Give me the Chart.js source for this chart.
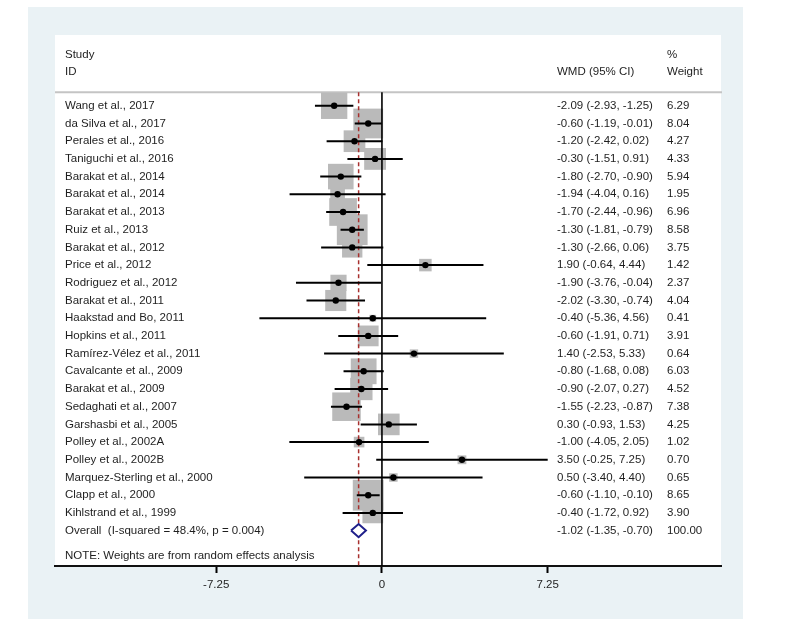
<!DOCTYPE html>
<html>
<head>
<meta charset="utf-8">
<title>Forest plot - WMD</title>
<script src="https://cdn.jsdelivr.net/npm/chart.js@4"></script>
<style>
  html, body { margin: 0; padding: 0; background: #fff; }
  #wrap { width: 800px; height: 619px; position: relative; }
</style>
</head>
<body>
<div id="wrap"><canvas id="forest"></canvas></div>
<script>
/* ---- data ---- */
const studies = [
  'Wang et al., 2017', 'da Silva et al., 2017', 'Perales et al., 2016', 'Taniguchi et al., 2016',
  'Barakat et al., 2014', 'Barakat et al., 2014', 'Barakat et al., 2013', 'Ruiz et al., 2013',
  'Barakat et al., 2012', 'Price et al., 2012', 'Rodriguez et al., 2012', 'Barakat et al., 2011',
  'Haakstad and Bo, 2011', 'Hopkins et al., 2011', 'Ramírez-Vélez et al., 2011', 'Cavalcante et al., 2009',
  'Barakat et al., 2009', 'Sedaghati et al., 2007', 'Garshasbi et al., 2005', 'Polley et al., 2002A',
  'Polley et al., 2002B', 'Marquez-Sterling et al., 2000', 'Clapp et al., 2000', 'Kihlstrand et al., 1999'
];
const wmd = [-2.09, -0.60, -1.20, -0.30, -1.80, -1.94, -1.70, -1.30, -1.30, 1.90, -1.90, -2.02,
  -0.40, -0.60, 1.40, -0.80, -0.90, -1.55, 0.30, -1.00, 3.50, 0.50, -0.60, -0.40];
const ciLower = [-2.93, -1.19, -2.42, -1.51, -2.70, -4.04, -2.44, -1.81, -2.66, -0.64, -3.76, -3.30,
  -5.36, -1.91, -2.53, -1.68, -2.07, -2.23, -0.93, -4.05, -0.25, -3.40, -1.10, -1.72];
const ciUpper = [-1.25, -0.01, 0.02, 0.91, -0.90, 0.16, -0.96, -0.79, 0.06, 4.44, -0.04, -0.74,
  4.56, 0.71, 5.33, 0.08, 0.27, -0.87, 1.53, 2.05, 7.25, 4.40, -0.10, 0.92];
const weights = [6.29, 8.04, 4.27, 4.33, 5.94, 1.95, 6.96, 8.58, 3.75, 1.42, 2.37, 4.04,
  0.41, 3.91, 0.64, 6.03, 4.52, 7.38, 4.25, 1.02, 0.70, 0.65, 8.65, 3.90];

const overallLabel = 'Overall  (I-squared = 48.4%, p = 0.004)';
const overallEst = -1.02;
const overallCI = [-1.35, -0.70];
const overallWeight = 100.00;
const noteText = 'NOTE: Weights are from random effects analysis';

const xTicks = [-7.25, 0, 7.25];

/* ---- layout helpers ---- */
const overallRow = studies.length;      // row index of the pooled estimate
const headRowTop = -2.9;                 // "Study" / "%"
const headRowBottom = -1.9;              // "ID" / "WMD (95% CI)" / "Weight"
const sepRow = -0.76;                    // grey rule under the header
const noteRow = 25.45;
const COL = { study: 65, wmd: 557, weight: 667 };
const FAMILY = '"Liberation Sans", Arial, sans-serif';
const FONT = '11.5px ' + FAMILY;
const TXT = '#1e1e1e';

const fmt = v => v.toFixed(2);

// CI segments, broken with null points
const ciData = [];
studies.forEach((s, i) => {
  ciData.push({ x: ciLower[i], y: i }, { x: ciUpper[i], y: i }, { x: null, y: null });
});
const estData = wmd.map((v, i) => ({ x: v, y: i }));
// box side ~ sqrt(weight); 'rect' point side = radius * sqrt(2)
const boxRadius = weights.map(w => 10.5 * Math.sqrt(w) / Math.SQRT2);
const dHalf = 0.37;
const diamondData = [
  { x: overallCI[0], y: overallRow },
  { x: overallEst, y: overallRow - dHalf },
  { x: overallCI[1], y: overallRow },
  { x: overallEst, y: overallRow + dHalf },
  { x: overallCI[0], y: overallRow }
];

/* ---- plugins ---- */
const panelPlugin = {
  id: 'panel',
  beforeDraw(chart) {
    const { ctx, chartArea: a } = chart;
    ctx.save();
    ctx.fillStyle = '#ffffff';
    ctx.fillRect(0, 0, chart.width, chart.height);
    ctx.fillStyle = '#eaf2f5';
    ctx.fillRect(28, 7, 715, chart.height - 7);
    ctx.fillStyle = '#ffffff';
    ctx.fillRect(a.left, a.top, a.right - a.left, a.bottom - a.top);
    ctx.restore();
  },
  beforeDatasetsDraw(chart) {
    const { ctx, chartArea: a } = chart;
    const y = chart.scales.y.getPixelForValue(sepRow);
    ctx.save();
    ctx.strokeStyle = '#c4c4c4';
    ctx.lineWidth = 2;
    ctx.beginPath();
    ctx.moveTo(a.left, y);
    ctx.lineTo(a.right + 1, y);
    ctx.stroke();
    ctx.restore();
  }
};

const textPlugin = {
  id: 'columns',
  afterDraw(chart) {
    const { ctx } = chart;
    const ys = chart.scales.y;
    const put = (t, x, row) => ctx.fillText(t, x, ys.getPixelForValue(row));
    ctx.save();
    ctx.font = FONT;
    ctx.fillStyle = TXT;
    ctx.textAlign = 'left';
    ctx.textBaseline = 'middle';

    put('Study', COL.study, headRowTop);
    put('ID', COL.study, headRowBottom);
    put('WMD (95% CI)', COL.wmd, headRowBottom);
    put('%', COL.weight, headRowTop);
    put('Weight', COL.weight, headRowBottom);

    studies.forEach((s, i) => {
      put(s, COL.study, i);
      put(`${fmt(wmd[i])} (${fmt(ciLower[i])}, ${fmt(ciUpper[i])})`, COL.wmd, i);
      put(fmt(weights[i]), COL.weight, i);
    });

    put(overallLabel, COL.study, overallRow);
    put(`${fmt(overallEst)} (${fmt(overallCI[0])}, ${fmt(overallCI[1])})`, COL.wmd, overallRow);
    put(fmt(overallWeight), COL.weight, overallRow);
    put(noteText, COL.study, noteRow);
    ctx.restore();
  }
};

/* ---- chart ---- */
new Chart(document.getElementById('forest'), {
  type: 'scatter',
  data: {
    datasets: [
      {
        // weight boxes
        data: estData,
        pointStyle: 'rect',
        pointRadius: boxRadius,
        backgroundColor: '#bababa',
        borderWidth: 0,
        order: 5
      },
      {
        // null line
        data: [{ x: 0, y: sepRow }, { x: 0, y: 26.3 }],
        showLine: true,
        borderColor: '#000',
        borderWidth: 1.6,
        pointRadius: 0,
        order: 4
      },
      {
        // overall effect line
        data: [{ x: overallEst, y: sepRow }, { x: overallEst, y: 26 }],
        showLine: true,
        borderColor: '#a8302e',
        borderWidth: 1.5,
        borderDash: [4, 3],
        pointRadius: 0,
        order: 3
      },
      {
        // confidence intervals
        data: ciData,
        showLine: true,
        spanGaps: false,
        borderColor: '#000',
        borderWidth: 2,
        pointRadius: 0,
        order: 2
      },
      {
        // point estimates
        data: estData,
        pointStyle: 'circle',
        pointRadius: 3.2,
        backgroundColor: '#000',
        borderWidth: 0,
        order: 1
      },
      {
        // pooled diamond
        data: diamondData,
        showLine: true,
        borderColor: '#1f1f8a',
        borderWidth: 2,
        backgroundColor: '#ffffff',
        fill: 'shape',
        pointRadius: 0,
        order: 0
      }
    ]
  },
  options: {
    responsive: true,
    maintainAspectRatio: false,
    animation: false,
    events: [],
    layout: { padding: { left: 55, right: 79, top: 35, bottom: 0 } },
    plugins: {
      legend: { display: false },
      tooltip: { enabled: false }
    },
    scales: {
      x: {
        type: 'linear',
        min: -14.3,
        max: 14.83,
        afterBuildTicks: (scale) => { scale.ticks = xTicks.map(v => ({ value: v })); },
        afterFit: (scale) => { scale.height = 53; },
        ticks: {
          autoSkip: false,
          maxRotation: 0,
          padding: 5,
          color: TXT,
          font: { family: FAMILY, size: 11.5 },
          callback: (v) => (v === 0 ? '0' : fmt(v))
        },
        grid: {
          drawOnChartArea: false,
          drawTicks: true,
          tickLength: 7,
          tickWidth: 2,
          tickColor: '#000'
        },
        border: { display: true, color: '#111', width: 2 }
      },
      y: {
        type: 'linear',
        reverse: true,
        min: -4,
        max: 26,
        display: false
      }
    }
  },
  plugins: [panelPlugin, textPlugin]
});
</script>
</body>
</html>
